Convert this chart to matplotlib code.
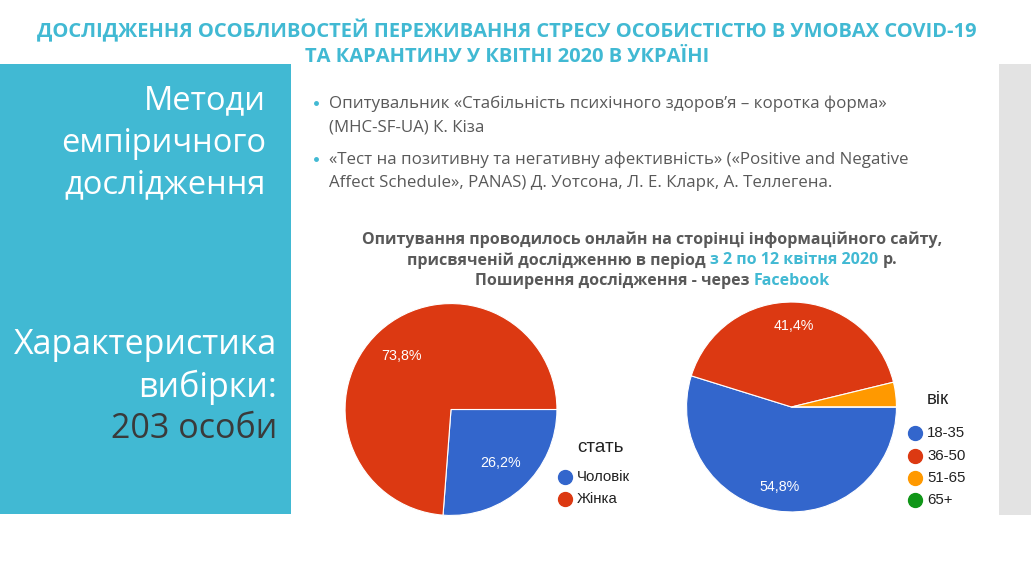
import matplotlib
matplotlib.use("Agg")
import matplotlib.pyplot as plt
from matplotlib.patches import Rectangle
from matplotlib.lines import Line2D

W, H = 1031, 580
CYAN = '#41B9D3'
GREY_TXT = '#595959'
SLIDE_FONT = ['Open Sans', 'DejaVu Sans']
CHART_FONT = ['Liberation Sans', 'DejaVu Sans']

# дані
title_lines = ['ДОСЛІДЖЕННЯ ОСОБЛИВОСТЕЙ ПЕРЕЖИВАННЯ СТРЕСУ ОСОБИСТІСТЮ В УМОВАХ COVID-19',
               'ТА КАРАНТИНУ У КВІТНІ 2020 В УКРАЇНІ']
side_top = ['Методи', 'емпіричного', 'дослідження']
side_bottom = ['Характеристика', 'вибірки:']
sample_size = '203 особи'
bullets = [['Опитувальник «Стабільність психічного здоров’я – коротка форма»',
            '(MHC-SF-UA) К. Кіза'],
           ['«Тест на позитивну та негативну афективність» («Positive and Negative',
            'Affect Schedule», PANAS) Д. Уотсона, Л. Е. Кларк, А. Теллегена.']]
survey_lines = [[('Опитування проводилось онлайн на сторінці інформаційного сайту,', GREY_TXT)],
                [('присвяченій дослідженню в період', GREY_TXT), ('з 2 по 12 квітня 2020', CYAN),
                 ('р.', GREY_TXT)],
                [('Поширення дослідження - через', GREY_TXT), ('Facebook', CYAN)]]

gender_title = 'стать'
gender_labels = ['Чоловік', 'Жінка']
gender_pct = [26.2, 73.8]
gender_colors = ['#3366CC', '#DC3912']

age_title = 'вік'
age_labels = ['18-35', '36-50', '51-65', '65+']
age_pct = [54.8, 41.4, 3.8, 0.0]
age_colors = ['#3366CC', '#DC3912', '#FF9900', '#109618']


def fx(x):
    return x / W


def fy(y):
    return 1 - y / H


fig = plt.figure(figsize=(W / 100, H / 100), dpi=100)
fig.patch.set_facecolor('white')

# фонові блоки
fig.patches.append(Rectangle((0, fy(514)), fx(291), 450 / H, transform=fig.transFigure,
                             facecolor=CYAN, edgecolor='none'))
fig.patches.append(Rectangle((fx(999), fy(515)), fx(32), 451 / H, transform=fig.transFigure,
                             facecolor='#E3E3E3', edgecolor='none'))

# заголовок
for i, line in enumerate(title_lines):
    fig.text(fx(507), fy(31 + 26 * i), line, ha='center', va='center', color=CYAN,
             fontsize=14.5, fontweight='bold', family=SLIDE_FONT)

# ліва панель
for i, s in enumerate(side_top):
    fig.text(fx(266), fy(101 + 42 * i), s, ha='right', va='center', color='white',
             fontsize=23.5, family=SLIDE_FONT)
for i, s in enumerate(side_bottom):
    fig.text(fx(277), fy(345 + 42 * i), s, ha='right', va='center', color='white',
             fontsize=24.5, family=SLIDE_FONT)
fig.text(fx(277), fy(429), sample_size, ha='right', va='center', color='#3A3A3A',
         fontsize=24.5, family=SLIDE_FONT)

# пункти
for i, item in enumerate(bullets):
    y0 = 104 + 56 * i
    fig.add_artist(Line2D([fx(316)], [fy(y0 - 1)], marker='o', ms=2.5, color=CYAN,
                          transform=fig.transFigure))
    for j, s in enumerate(item):
        fig.text(fx(329), fy(y0 + 23 * j), s, ha='left', va='center', color=GREY_TXT,
                 fontsize=12.2, family=SLIDE_FONT)

# підпис з кольоровими фрагментами
renderer = fig.canvas.get_renderer()
kw = dict(fontsize=11.5, fontweight='bold', family=SLIDE_FONT, va='center')


def text_w(s):
    t = fig.text(0, 0, s, **kw)
    w = t.get_window_extent(renderer).width
    t.remove()
    return w


space = text_w('a a') - text_w('aa')
for i, runs in enumerate(survey_lines):
    widths = [text_w(s) for s, _ in runs]
    x = 652 - (sum(widths) + space * (len(runs) - 1)) / 2
    for (s, c), w in zip(runs, widths):
        fig.text(fx(x), fy(240 + 20.5 * i), s, color=c, ha='left', **kw)
        x += w + space


def pct_fmt(p):
    if p < 5:
        return ''
    return ('%.1f%%' % p).replace('.', ',')


def draw_pie(cx, cy, r, vals, colors, dist):
    ax = fig.add_axes([fx(cx - r), fy(cy + r), 2 * r / W, 2 * r / H])
    ax.pie(vals, colors=colors, startangle=0, counterclock=False, autopct=pct_fmt,
           pctdistance=dist, wedgeprops=dict(edgecolor='white', linewidth=0.8),
           textprops=dict(color='white', fontsize=10.3, family=CHART_FONT))
    ax.set_xlim(-1.01, 1.01)
    ax.set_ylim(-1.01, 1.01)
    ax.set_aspect('equal')
    ax.axis('off')
    return ax


def draw_legend(x, y_title, y_items, title, labels, colors):
    fig.text(fx(x + 12), fy(y_title), title, ha='left', va='center', color='#222222',
             fontsize=13.5, family=CHART_FONT)
    for lab, col, yy in zip(labels, colors, y_items):
        fig.add_artist(Line2D([fx(x)], [fy(yy)], marker='o', ms=10, color=col,
                              transform=fig.transFigure))
        fig.text(fx(x + 12), fy(yy), lab, ha='left', va='center', color='#222222',
                 fontsize=10.8, family=CHART_FONT)


draw_pie(451, 409.5, 107, gender_pct, gender_colors, 0.69)
draw_legend(565, 448, [477, 499], gender_title, gender_labels, gender_colors)

draw_pie(791.5, 407, 106, age_pct, age_colors, 0.77)
draw_legend(915, 400, [433, 455.5, 477.5, 500], age_title, age_labels, age_colors)

fig.savefig('out.png', dpi=100)
